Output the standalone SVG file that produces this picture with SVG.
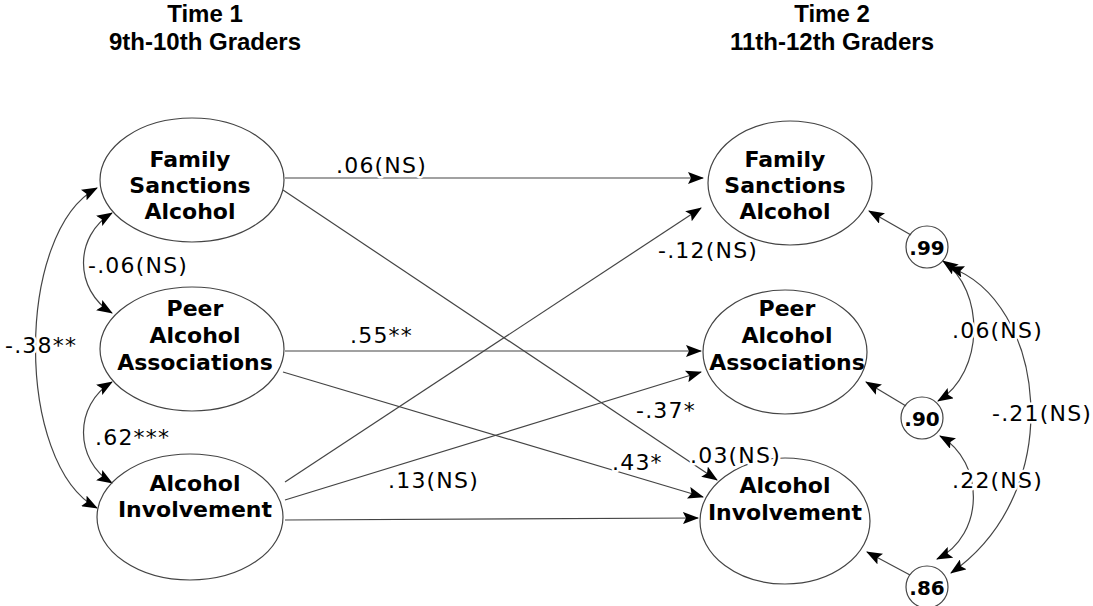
<svg xmlns="http://www.w3.org/2000/svg" width="1093" height="606" viewBox="0 0 1093 606">
<defs>
<marker id="ah" viewBox="0 0 16 12" markerWidth="16" markerHeight="12" refX="15" refY="6" orient="auto-start-reverse" markerUnits="userSpaceOnUse">
<path d="M0,0 L16,6 L0,12 L3,6 z" fill="#000"/>
</marker>
<style>
.title{font-family:"Liberation Sans",Arial,sans-serif;font-weight:bold;font-size:24px;fill:#000;text-anchor:middle}
.node{font-family:"DejaVu Sans","Liberation Sans",sans-serif;font-weight:bold;font-size:22px;fill:#000;text-anchor:middle}
.lbl{font-family:"DejaVu Sans","Liberation Sans",sans-serif;font-size:22px;letter-spacing:1.2px;fill:#000;stroke:#fff;stroke-width:5px;paint-order:stroke;stroke-linejoin:round}
.err{font-family:"DejaVu Sans","Liberation Sans",sans-serif;font-weight:bold;font-size:20px;fill:#000;text-anchor:middle}
.shape{fill:none;stroke:#444;stroke-width:1.2}
.ln{fill:none;stroke:#444;stroke-width:1.2}
.arr{marker-end:url(#ah)}
.both{marker-start:url(#ah);marker-end:url(#ah)}
</style>
</defs>
<rect width="1093" height="606" fill="#fff"/>

<g id="titles">
<text class="title" x="205" y="22">Time 1</text>
<text class="title" x="205" y="50">9th-10th Graders</text>
<text class="title" x="832" y="22">Time 2</text>
<text class="title" x="832" y="50">11th-12th Graders</text>
</g>

<g id="connectors">
<line class="ln arr" x1="285" y1="178" x2="703" y2="178"/>
<line class="ln arr" x1="283" y1="190" x2="717" y2="480"/>
<line class="ln arr" x1="285" y1="351" x2="701" y2="351"/>
<line class="ln arr" x1="283" y1="372" x2="703" y2="497"/>
<line class="ln arr" x1="285" y1="482" x2="701" y2="208"/>
<line class="ln arr" x1="285" y1="500" x2="701" y2="372"/>
<line class="ln arr" x1="285" y1="520" x2="698" y2="518"/>
<path class="ln both" d="M112,213 C74,236 74,290 112,313"/>
<path class="ln both" d="M112,382 C74,405 74,460 112,483"/>
<path class="ln both" d="M97,188 C15,232 15,464 97,508"/>
<line class="ln arr" x1="911" y1="235" x2="869" y2="211"/>
<line class="ln arr" x1="906" y1="406" x2="866" y2="382"/>
<line class="ln arr" x1="910" y1="575" x2="867" y2="552"/>
<path class="ln both" d="M943,261 C985,290 985,372 938,401"/>
<path class="ln both" d="M940,436 C985,462 985,535 937,559"/>
<path class="ln both" d="M949,267 C1045,300 1070,490 951,573"/>
</g>

<g id="family-t1">
<ellipse class="shape" cx="192" cy="180" rx="92" ry="62"/>
<text class="node" x="190" y="167">Family</text>
<text class="node" x="190" y="193">Sanctions</text>
<text class="node" x="190" y="219">Alcohol</text>
</g>
<g id="peer-t1">
<ellipse class="shape" cx="192" cy="349" rx="92" ry="62"/>
<text class="node" x="195" y="316">Peer</text>
<text class="node" x="195" y="343">Alcohol</text>
<text class="node" x="195" y="370">Associations</text>
</g>
<g id="involve-t1">
<ellipse class="shape" cx="190" cy="517" rx="93" ry="63"/>
<text class="node" x="195" y="491">Alcohol</text>
<text class="node" x="195" y="517">Involvement</text>
</g>

<g id="family-t2">
<ellipse class="shape" cx="790" cy="183" rx="82" ry="62"/>
<text class="node" x="785" y="167">Family</text>
<text class="node" x="785" y="193">Sanctions</text>
<text class="node" x="785" y="219">Alcohol</text>
</g>
<g id="peer-t2">
<ellipse class="shape" cx="785" cy="352" rx="82" ry="62"/>
<text class="node" x="787" y="316">Peer</text>
<text class="node" x="787" y="343">Alcohol</text>
<text class="node" x="787" y="370">Associations</text>
</g>
<g id="involve-t2">
<ellipse class="shape" cx="785" cy="521" rx="85" ry="63"/>
<text class="node" x="785" y="493">Alcohol</text>
<text class="node" x="785" y="520">Involvement</text>
</g>

<g id="err-99">
<circle class="shape" cx="927" cy="247" r="21"/>
<text class="err" x="927" y="255">.99</text>
</g>
<g id="err-90">
<circle class="shape" cx="922" cy="418" r="21"/>
<text class="err" x="922" y="426">.90</text>
</g>
<g id="err-86">
<circle class="shape" cx="927" cy="587" r="21"/>
<text class="err" x="927" y="595">.86</text>
</g>

<g id="labels">
<text class="lbl" x="336" y="173">.06(NS)</text>
<text class="lbl" x="88" y="273">-.06(NS)</text>
<text class="lbl" x="5" y="353">-.38**</text>
<text class="lbl" x="350" y="343">.55**</text>
<text class="lbl" x="95" y="445">.62***</text>
<text class="lbl" x="388" y="488">.13(NS)</text>
<text class="lbl" x="658" y="258">-.12(NS)</text>
<text class="lbl" x="636" y="418">-.37*</text>
<text class="lbl" x="612" y="470">.43*</text>
<text class="lbl" x="690" y="463">.03(NS)</text>
<text class="lbl" x="952" y="338">.06(NS)</text>
<text class="lbl" x="992" y="421">-.21(NS)</text>
<text class="lbl" x="952" y="488">.22(NS)</text>
</g>
</svg>
